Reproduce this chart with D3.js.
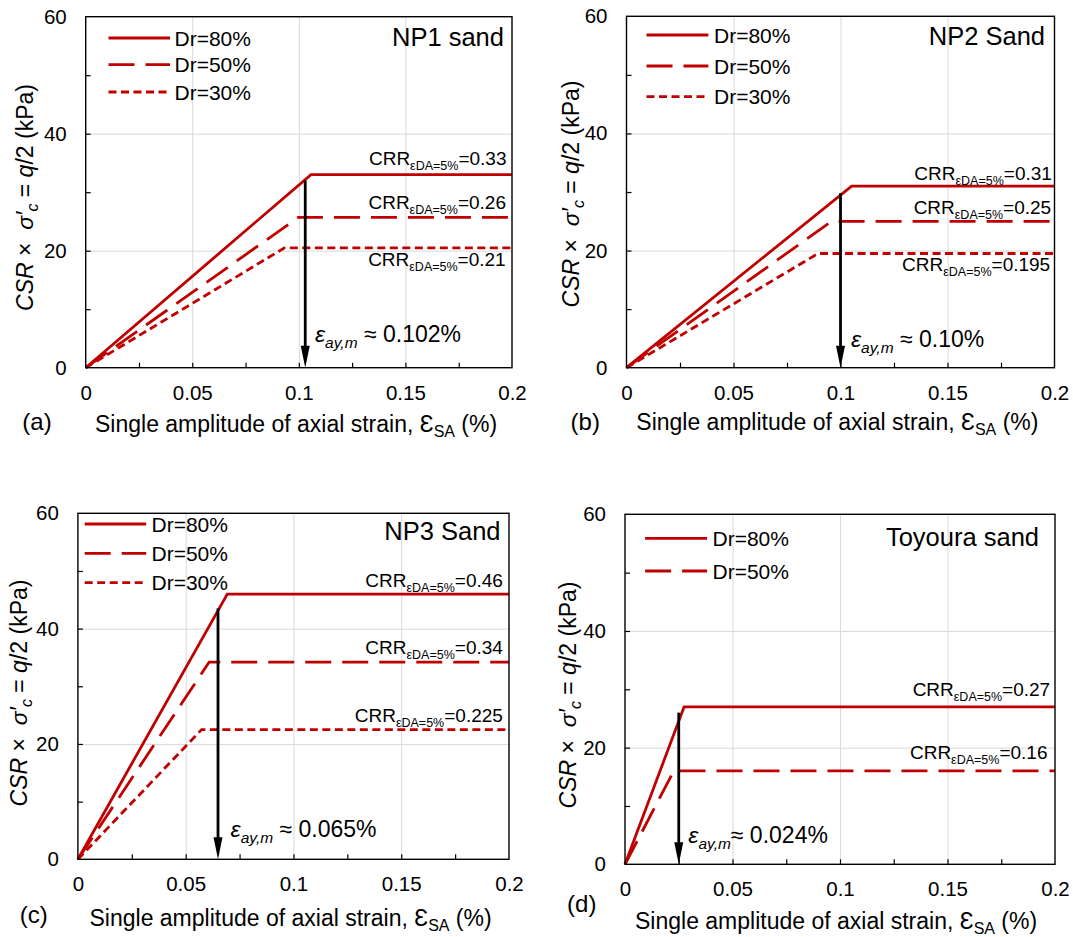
<!DOCTYPE html>
<html><head><meta charset="utf-8">
<script src="https://cdn.jsdelivr.net/npm/d3@7"></script>
<style>
body{margin:0;background:#fff;}
svg{font-family:"Liberation Sans",Arial,Helvetica,sans-serif;}
svg text{white-space:pre;}
</style></head><body>
<svg id="chart" width="1073" height="937"></svg>
<script>
// ---------------- data ----------------
const xTickValues = [0, 0.05, 0.1, 0.15, 0.2];
const xTickLabels = ["0", "0.05", "0.1", "0.15", "0.2"];
const yTickValues = [0, 20, 40, 60];
const yTickLabels = ["0", "20", "40", "60"];
const xMinorTicks = [0.025, 0.05, 0.075, 0.1, 0.125, 0.15, 0.175];
const yMinorTicks = [10, 20, 30, 40, 50];
const panelLetters = ["(a)", "(b)", "(c)", "(d)"];
const sandNames = ["NP1 sand", "NP2 Sand", "NP3 Sand", "Toyoura sand"];
const seriesNames = ["Dr=80%", "Dr=50%", "Dr=30%"];
// yield (corner) strain and plateau stress of each bilinear curve, per panel
const yieldStrainDr80 = [0.1057, 0.1052, 0.0693, 0.0275];
const plateauDr80 = [33, 31, 46, 27];
const yieldStrainDr50 = [0.0998, 0.0958, 0.0609, 0.0227];
const plateauDr50 = [25.7, 25, 34.2, 16];
const yieldStrainDr30 = [0.0933, 0.0895, 0.0574, null];
const plateauDr30 = [20.5, 19.5, 22.5, null];
const crrDr80 = ["0.33", "0.31", "0.46", "0.27"];
const crrDr50 = ["0.26", "0.25", "0.34", "0.16"];
const crrDr30 = ["0.21", "0.195", "0.225", null];
const epsLabels = [" \u2248 0.102%", " \u2248 0.10%", " \u2248 0.065%", "\u2248 0.024%"];
const arrowStrain = [0.103, 0.100, 0.065, 0.025];
const arrowTop = [32, 29.8, 43.5, 26];
const xMax = 0.2, yMax = 60;

// ---------------- layout (positions only) ----------------
const layout = [
  {l:85.7, r:512, t:16.7, b:367.7, yLab:[32.5,197.5], xTitle:[95,431.5], letter:[22.3,430],
   title:[504,45.7], leg:{x1:108.5,x2:170,tx:174.5,ys:[38,64.7,92]},
   crr:[[506.5,-10],[506,-8.5],[505.7,18]], eps:[315,341.7]},
  {l:626.5, r:1054.5, t:16.3, b:367.7, yLab:[579,194], xTitle:[636.3,430], letter:[570.6,430],
   title:[1045,45], leg:{x1:646.5,x2:708.4,tx:714,ys:[35,66,96.7]},
   crr:[[1051.9,-6],[1051.2,-7],[1050.2,18]], eps:[851,346.7]},
  {l:77.9, r:509, t:513.3, b:859.3, yLab:[27.3,693], xTitle:[89.5,925.5], letter:[19.8,923],
   title:[500.5,540], leg:{x1:84.7,x2:146.2,tx:151.5,ys:[524,553.3,582.7]},
   crr:[[502.9,-7.3],[502.9,-8],[502.9,-7.7]], eps:[230.6,836.7]},
  {l:625, r:1055, t:514.3, b:864.3, yLab:[575.6,695], xTitle:[635,928.5], letter:[567.1,912],
   title:[1039,546], leg:{x1:645.1,x2:707.1,tx:712.5,ys:[538.3,571]},
   crr:[[1050.2,-10.7],[1047.5,-11.7]], eps:[688.3,842.5]}
];

const RED = "#c00000";
const dashes = [null, "26,11", "8,4.5"];
const svg = d3.select("#chart");
const FONT = "Liberation Sans, Arial, sans-serif";

layout.forEach((L, i) => {
  const x = d3.scaleLinear().domain([0, xMax]).range([L.l, L.r]);
  const y = d3.scaleLinear().domain([0, yMax]).range([L.b, L.t]);
  const g = svg.append("g");
  const W = L.r - L.l, H = L.b - L.t;

  // gridlines
  g.append("g").attr("transform", `translate(0,${L.b})`)
    .call(d3.axisBottom(x).tickValues(xTickValues.slice(1, -1)).tickSize(-H).tickFormat(""))
    .call(s => s.select(".domain").remove())
    .call(s => s.selectAll("line").attr("stroke", "#d9d9d9").attr("stroke-width", 1));
  g.append("g").attr("transform", `translate(${L.l},0)`)
    .call(d3.axisLeft(y).tickValues(yTickValues.slice(1, -1)).tickSize(-W).tickFormat(""))
    .call(s => s.select(".domain").remove())
    .call(s => s.selectAll("line").attr("stroke", "#d9d9d9").attr("stroke-width", 1));

  // minor inward ticks
  g.append("g").attr("transform", `translate(0,${L.b})`)
    .call(d3.axisBottom(x).tickValues(xMinorTicks).tickSize(-5).tickFormat(""))
    .call(s => s.select(".domain").remove())
    .call(s => s.selectAll("line").attr("stroke", "#000").attr("stroke-width", 1.2));
  g.append("g").attr("transform", `translate(${L.l},0)`)
    .call(d3.axisLeft(y).tickValues(yMinorTicks).tickSize(-5).tickFormat(""))
    .call(s => s.select(".domain").remove())
    .call(s => s.selectAll("line").attr("stroke", "#000").attr("stroke-width", 1.2));

  // tick labels
  g.append("g").attr("transform", `translate(0,${L.b})`)
    .call(d3.axisBottom(x).tickValues(xTickValues).tickSize(0).tickPadding(17.5)
      .tickFormat((d, k) => xTickLabels[k]))
    .call(s => s.select(".domain").remove())
    .call(s => s.selectAll("text").attr("font-size", 20.5).attr("fill", "#000").attr("font-family", FONT));
  g.append("g").attr("transform", `translate(${L.l},0)`)
    .call(d3.axisLeft(y).tickValues(yTickValues).tickSize(0).tickPadding(19)
      .tickFormat((d, k) => yTickLabels[k]))
    .call(s => s.select(".domain").remove())
    .call(s => s.selectAll("text").attr("font-size", 20.5).attr("fill", "#000").attr("font-family", FONT));

  // series
  const ys = [yieldStrainDr80[i], yieldStrainDr50[i], yieldStrainDr30[i]];
  const pl = [plateauDr80[i], plateauDr50[i], plateauDr30[i]];
  const crr = [crrDr80[i], crrDr50[i], crrDr30[i]];
  const line = d3.line().x(d => x(d[0])).y(d => y(d[1]));
  ys.forEach((s, k) => {
    if (s == null) return;
    const pts = [[0, 0], [s, pl[k]], [xMax, pl[k]]];
    g.append("path").attr("d", line(pts)).attr("fill", "none")
      .attr("stroke", RED).attr("stroke-width", 2.8)
      .attr("stroke-linejoin", "miter")
      .attr("stroke-dasharray", dashes[k]);
    // legend
    g.append("line").attr("x1", L.leg.x1).attr("x2", L.leg.x2)
      .attr("y1", L.leg.ys[k]).attr("y2", L.leg.ys[k])
      .attr("stroke", RED).attr("stroke-width", 2.8).attr("stroke-dasharray", dashes[k]);
    g.append("text").attr("x", L.leg.tx).attr("y", L.leg.ys[k] + 7.5)
      .attr("font-size", 21).text(seriesNames[k]);
    // CRR label
    const t = g.append("text").attr("x", L.crr[k][0]).attr("y", y(pl[k]) + L.crr[k][1])
      .attr("text-anchor", "end").attr("font-size", 19);
    t.append("tspan").text("CRR");
    t.append("tspan").attr("font-size", 12.5).attr("dy", 5).text("\u03b5DA=5%");
    t.append("tspan").attr("dy", -5).text("=" + crr[k]);
  });

  // frame
  g.append("rect").attr("x", L.l).attr("y", L.t).attr("width", W).attr("height", H)
    .attr("fill", "none").attr("stroke", "#000").attr("stroke-width", 1.4);

  // arrow
  const ax = x(arrowStrain[i]);
  g.append("line").attr("x1", ax).attr("x2", ax).attr("y1", y(arrowTop[i])).attr("y2", y(0) - 18)
    .attr("stroke", "#000").attr("stroke-width", 2.8);
  g.append("path").attr("d", `M${ax},${y(0)} L${ax - 4.5},${y(0) - 22} L${ax + 4.5},${y(0) - 22} Z`)
    .attr("fill", "#000");

  // epsilon annotation
  const e = g.append("text").attr("x", L.eps[0]).attr("y", L.eps[1]).attr("font-size", 23);
  e.append("tspan").attr("font-style", "italic").text("\u03b5");
  e.append("tspan").attr("font-style", "italic").attr("font-size", 15.5).attr("dy", 6).text("ay,m");
  e.append("tspan").attr("dy", -6).text(epsLabels[i]);

  // sand title
  g.append("text").attr("x", L.title[0]).attr("y", L.title[1]).attr("text-anchor", "end")
    .attr("font-size", 25.5).text(sandNames[i]);

  // x-axis title
  const xt = g.append("text").attr("x", L.xTitle[0]).attr("y", L.xTitle[1]).attr("font-size", 23);
  xt.append("tspan").text("Single amplitude of axial strain, ");
  xt.append("tspan").attr("font-size", 23).text("\u0190");
  xt.append("tspan").attr("font-size", 16).attr("dy", 5).text("SA");
  xt.append("tspan").attr("dy", -5).text(" (%)");

  // y-axis title
  const yt = g.append("text").attr("transform", `translate(${L.yLab[0]},${L.yLab[1]}) rotate(-90)`)
    .attr("text-anchor", "middle").attr("font-size", 23);
  yt.append("tspan").attr("font-style", "italic").text("CSR");
  yt.append("tspan").text(" \u00d7  ");
  yt.append("tspan").attr("font-style", "italic").text("\u03c3\u2032");
  yt.append("tspan").attr("font-style", "italic").attr("font-size", 16).attr("dy", 5).text("c");
  yt.append("tspan").attr("dy", -5).text(" = ");
  yt.append("tspan").attr("font-style", "italic").text("q");
  yt.append("tspan").text("/2 (kPa)");

  // panel letter
  g.append("text").attr("x", L.letter[0]).attr("y", L.letter[1]).attr("font-size", 24)
    .text(panelLetters[i]);
});
</script>
</body></html>
